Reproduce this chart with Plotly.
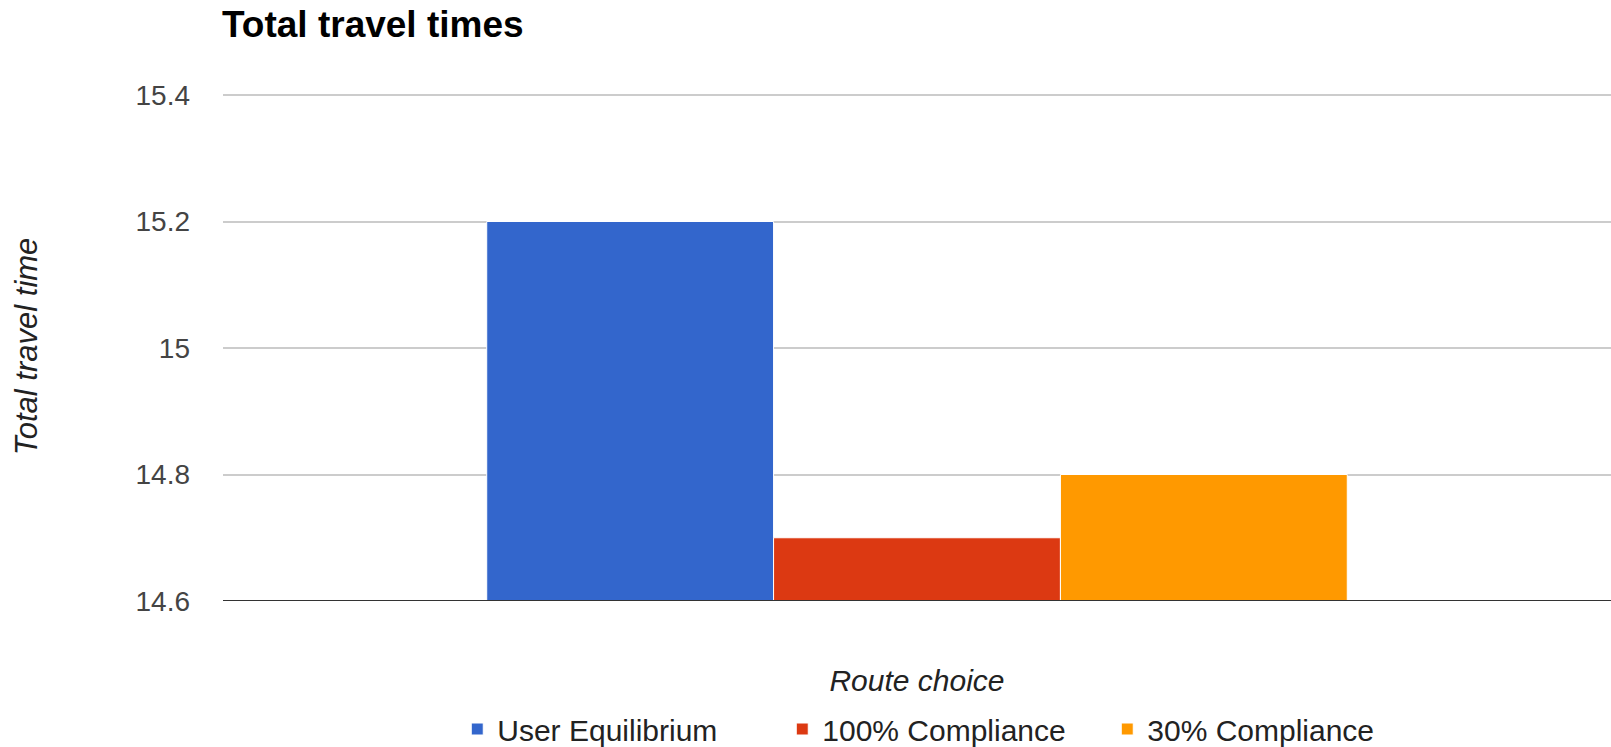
import plotly.graph_objects as go

categories = ["Route choice"]
series_names = ["User Equilibrium", "100% Compliance", "30% Compliance"]
series_values = [[15.2], [14.7], [14.8]]
series_colors = ["#3366CC", "#DC3912", "#FF9900"]
y_ticks = [14.6, 14.8, 15.0, 15.2, 15.4]
y_tick_labels = ["14.6", "14.8", "15", "15.2", "15.4"]

FONT = "Arial, Liberation Sans, sans-serif"

fig = go.Figure()
for name, vals, col in zip(series_names, series_values, series_colors):
    fig.add_trace(go.Bar(
        x=categories, y=vals, name=name,
        marker=dict(color=col, line=dict(color="white", width=1)),
    ))

fig.update_layout(
    width=1611, height=747,
    margin=dict(l=223, r=0, t=92, b=146, autoexpand=False),
    paper_bgcolor="white", plot_bgcolor="white",
    barmode="group", bargap=0.38, bargroupgap=0.0,
    title=dict(text="<b>Total travel times</b>", x=222 / 1611, xanchor="left",
               xref="container", y=1 - 24 / 747, yanchor="middle", yref="container",
               font=dict(family=FONT, size=37, color="#000000")),
    legend=dict(orientation="h", x=0.52, xanchor="center", xref="paper",
                y=(747 - 729) / 747, yanchor="middle", yref="container",
                font=dict(family=FONT, size=30, color="#222222"),
                itemwidth=30, traceorder="normal",
                entrywidth=280, entrywidthmode="pixels"),
    showlegend=True,
)
fig.update_xaxes(
    showticklabels=False, showgrid=False, zeroline=False, showline=False,
    title=dict(text="<i>Route choice</i>", standoff=68,
               font=dict(family=FONT, size=30, color="#222222")),
)
fig.update_yaxes(
    range=[14.6, 15.4 + 3 / 632.5], tickvals=y_ticks, ticktext=y_tick_labels,
    showgrid=True, gridcolor="#CCCCCC", gridwidth=2, zeroline=False,
    showline=False, ticks="", ticklabelstandoff=32,
    tickfont=dict(family=FONT, size=28, color="#444444"),
    title=dict(text="<i>Total travel time</i>", standoff=88,
               font=dict(family=FONT, size=31, color="#222222")),
)
# baseline
fig.add_shape(type="line", xref="paper", yref="y", x0=0, x1=1, y0=14.6, y1=14.6,
              line=dict(color="#333333", width=2))

fig.write_html("out.html")
